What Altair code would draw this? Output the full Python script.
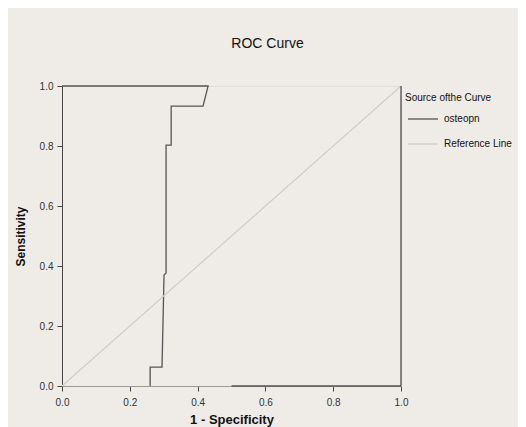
import altair as alt
import pandas as pd

# ROC curve points (1 - specificity, sensitivity)
curve_x = [0.0, 0.431, 0.416, 0.322, 0.322, 0.307, 0.307, 0.301, 0.295, 0.26, 0.26]
curve_y = [1.0, 1.0, 0.933, 0.933, 0.803, 0.803, 0.377, 0.37, 0.063, 0.063, 0.0]
tail_x = [0.5, 1.0]
tail_y = [0.0, 0.0]
ref_x = [0.0, 1.0]
ref_y = [0.0, 1.0]
series = ["osteopn", "Reference Line"]
ticks = [0.0, 0.2, 0.4, 0.6, 0.8, 1.0]

rows = []
for i, (x, y) in enumerate(zip(curve_x, curve_y)):
    rows.append({"x": x, "y": y, "s": series[0], "seg": "a", "o": i})
for i, (x, y) in enumerate(zip(tail_x, tail_y)):
    rows.append({"x": x, "y": y, "s": series[0], "seg": "b", "o": i})
for i, (x, y) in enumerate(zip(ref_x, ref_y)):
    rows.append({"x": x, "y": y, "s": series[1], "seg": "c", "o": i})
df = pd.DataFrame(rows)

BG = "#efece7"
FONT = "Liberation Sans"

xs = alt.Scale(domain=[0, 1], nice=False, zero=False)
ys = alt.Scale(domain=[0, 1], nice=False, zero=False)

lines = alt.Chart(df).mark_line(strokeWidth=1.3).encode(
    x=alt.X("x:Q", scale=xs, axis=alt.Axis(
        title="1 - Specificity", values=ticks, format=".1f", grid=False,
        domainColor="#9a9a9a", tickColor="#444", tickSize=5, labelFlush=False,
        labelFontSize=10, labelColor="#333", labelPadding=6,
        titleFontSize=13, titleFontWeight="bold", titleColor="#111", titlePadding=6)),
    y=alt.Y("y:Q", scale=ys, axis=alt.Axis(
        title="Sensitivity", values=ticks, format=".1f", grid=False,
        domainColor="#444", tickColor="#444", tickSize=5, labelFlush=False,
        labelFontSize=10, labelColor="#333", labelPadding=4,
        titleFontSize=12, titleFontWeight="bold", titleColor="#111", titlePadding=12)),
    color=alt.Color("s:N", scale=alt.Scale(domain=series, range=["#555555", "#d2cdc5"]),
                    legend=alt.Legend(
                        title="Source ofthe Curve", orient="none", legendX=343, legendY=7,
                        symbolType="stroke", symbolSize=900, symbolStrokeWidth=1.3,
                        titleFontSize=10, titleFontWeight="normal", titleColor="#111",
                        titlePadding=0, labelFontSize=10, labelColor="#111",
                        labelOffset=5, rowPadding=4, padding=0, symbolOffset=2)),
    detail="seg:N",
    order="o:Q",
)

# right frame line
frame = alt.Chart(pd.DataFrame({"x": [1.0]})).mark_rule(color="#444", strokeWidth=1.2).encode(
    x=alt.X("x:Q", scale=xs), y=alt.value(0), y2=alt.value(300))

chart = alt.layer(lines, frame).properties(
    width=339, height=300,
    title=alt.TitleParams("ROC Curve", fontSize=14, fontWeight="normal", font=FONT,
                          color="#111", anchor="middle", dx=36, offset=30),
    background=BG,
    padding={"left": 54, "top": 78, "right": 117, "bottom": 41},
    autosize=alt.AutoSizeParams(type="none"),
).configure_view(stroke="#9a9a9a", strokeWidth=1.2).configure(font=FONT)

chart.save("out.html", embed_options={"renderer": "svg", "actions": False})
